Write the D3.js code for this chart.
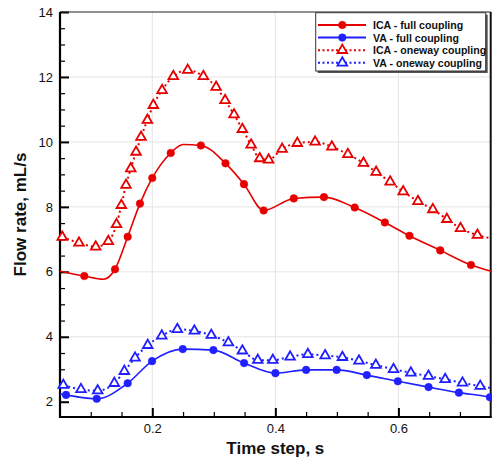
<!DOCTYPE html>
<html>
<head>
<meta charset="utf-8">
<script src="https://cdn.jsdelivr.net/npm/d3@7"></script>
<style>
  html, body { margin: 0; padding: 0; background: #fff; }
  svg { display: block; }
  text { font-family: Arial, "Liberation Sans", sans-serif; }
</style>
</head>
<body>
<svg id="chart" width="492" height="463"></svg>
<script>
// ---------------- DATA ----------------
const seriesNames = ["ICA - full coupling", "VA - full coupling", "ICA - oneway coupling", "VA - oneway coupling"];

// marker points [time, flow]
const icaFull = [[0.0895,5.87],[0.1394,6.08],[0.160,7.08],[0.180,8.10],[0.200,8.89],[0.230,9.66],[0.279,9.89],
  [0.319,9.34],[0.349,8.70],[0.381,7.89],[0.430,8.26],[0.479,8.30],[0.529,7.98],[0.578,7.52],[0.618,7.11],
  [0.668,6.66],[0.718,6.21]];
// additional curve points without markers
const icaFullExtra = [[0.05,6.02],[0.1204,5.77],[0.25,9.92],[0.751,6.02]];

const vaFull = [[0.0598,2.21],[0.1097,2.09],[0.160,2.57],[0.1996,3.25],[0.2495,3.62],[0.2993,3.59],[0.3492,3.19],
  [0.4001,2.88],[0.45,2.98],[0.4996,2.98],[0.5487,2.82],[0.5991,2.63],[0.649,2.45],[0.6983,2.28],[0.7487,2.14]];
const vaFullExtra = [[0.05,2.24],[0.751,2.13]];

const icaOneway = [[0.0537,7.07],[0.0809,6.89],[0.108,6.77],[0.1285,6.94],[0.1419,7.46],[0.1497,8.05],[0.1573,8.67],
  [0.165,9.18],[0.1736,9.69],[0.1817,10.15],[0.192,10.67],[0.2017,11.13],[0.2159,11.59],[0.2342,12.02],[0.2576,12.21],
  [0.283,12.02],[0.3037,11.69],[0.3183,11.28],[0.3329,10.84],[0.3464,10.39],[0.3606,9.91],[0.3746,9.49],[0.389,9.45],
  [0.411,9.78],[0.4357,9.96],[0.4646,10.0],[0.4918,9.85],[0.5178,9.62],[0.5432,9.35],[0.5638,9.07],[0.5866,8.77],
  [0.6077,8.47],[0.6318,8.17],[0.656,7.92],[0.6788,7.62],[0.7009,7.34],[0.7284,7.13]];
const icaOnewayExtra = [[0.751,7.03]];

const vaOneway = [[0.0554,2.51],[0.0841,2.38],[0.1113,2.34],[0.1383,2.57],[0.1546,2.94],[0.1720,3.35],[0.1926,3.74],
  [0.2154,4.03],[0.2407,4.23],[0.2684,4.18],[0.2959,4.05],[0.3237,3.82],[0.3464,3.57],[0.3715,3.28],[0.3959,3.28],
  [0.424,3.38],[0.4528,3.46],[0.4809,3.42],[0.509,3.37],[0.5359,3.26],[0.5633,3.13],[0.592,3.00],[0.6202,2.89],
  [0.6489,2.79],[0.676,2.69],[0.7042,2.58],[0.733,2.48]];
const vaOnewayExtra = [[0.751,2.42]];

const xTicks = [0.2, 0.4, 0.6];
const xTickLabels = ["0.2", "0.4", "0.6"];
const yTicks = [2, 4, 6, 8, 10, 12, 14];
const yTickLabels = ["2", "4", "6", "8", "10", "12", "14"];
const xTitle = "Time step, s";
const yTitle = "Flow rate, mL/s";

// ---------------- LAYOUT ----------------
const RED = "#e60000", BLUE = "#1f1fff";
const L = 60, R = 490.7, T = 12, B = 417;
const svg = d3.select("#chart");
const x = d3.scaleLinear().domain([0.05, 0.75]).range([L, R]);
const y = d3.scaleLinear().domain([1.53, 14]).range([B, T]);

// grid
const grid = svg.append("g");
grid.selectAll("line.gx").data(xTicks).join("line")
  .attr("x1", d => x(d)).attr("x2", d => x(d)).attr("y1", T).attr("y2", B)
  .attr("stroke", "#e4e4e4").attr("stroke-width", 1);
grid.selectAll("line.gy").data(yTicks.filter(d => d > 2 && d < 14)).join("line")
  .attr("x1", L).attr("x2", R).attr("y1", d => y(d)).attr("y2", d => y(d))
  .attr("stroke", "#e4e4e4").attr("stroke-width", 1);

// axes (ticks inside)
const xMinor = d3.range(0.1, 0.75, 0.05).filter(v => !xTicks.some(t => Math.abs(t - v) < 1e-6));
const yMinor = d3.range(2.5, 14, 0.5).filter(v => !yTicks.some(t => Math.abs(t - v) < 1e-6));

const xAxis = svg.append("g").attr("transform", `translate(0,${B})`)
  .call(d3.axisBottom(x).tickValues(xTicks).tickFormat((d, i) => xTickLabels[i]).tickSizeInner(-9).tickSizeOuter(0).tickPadding(7));
xAxis.select(".domain").remove();
xAxis.selectAll(".tick line").attr("stroke", "#000").attr("stroke-width", 2);
xAxis.selectAll("text").attr("font-size", 13).attr("fill", "#111");
svg.append("g").attr("transform", `translate(0,${B})`)
  .call(d3.axisBottom(x).tickValues(xMinor).tickFormat("").tickSizeInner(-5).tickSizeOuter(0))
  .call(g => g.select(".domain").remove())
  .selectAll(".tick line").attr("stroke", "#000").attr("stroke-width", 1.2);

const yAxis = svg.append("g").attr("transform", `translate(${L},0)`)
  .call(d3.axisLeft(y).tickValues(yTicks).tickFormat((d, i) => yTickLabels[i]).tickSizeInner(-9).tickSizeOuter(0).tickPadding(7));
yAxis.select(".domain").remove();
yAxis.selectAll(".tick line").attr("stroke", "#000").attr("stroke-width", 2);
yAxis.selectAll("text").attr("font-size", 13).attr("fill", "#111");
svg.append("g").attr("transform", `translate(${L},0)`)
  .call(d3.axisLeft(y).tickValues(yMinor).tickFormat("").tickSizeInner(-5).tickSizeOuter(0))
  .call(g => g.select(".domain").remove())
  .selectAll(".tick line").attr("stroke", "#000").attr("stroke-width", 1.2);

// frame
svg.append("line").attr("x1", L).attr("x2", R).attr("y1", T).attr("y2", T).attr("stroke", "#222").attr("stroke-width", 1.2);
svg.append("line").attr("x1", R).attr("x2", R).attr("y1", T).attr("y2", B).attr("stroke", "#111").attr("stroke-width", 2);
svg.append("line").attr("x1", L).attr("x2", L).attr("y1", T).attr("y2", B + 1).attr("stroke", "#000").attr("stroke-width", 2.2);
svg.append("line").attr("x1", L - 1).attr("x2", R + 1).attr("y1", B).attr("y2", B).attr("stroke", "#000").attr("stroke-width", 2.2);

// titles
svg.append("text").attr("x", (L + R) / 2).attr("y", 454).attr("text-anchor", "middle")
  .attr("font-size", 17).attr("font-weight", "bold").attr("fill", "#111").text(xTitle);
svg.append("text").attr("transform", `translate(26,${(T + B) / 2}) rotate(-90)`).attr("text-anchor", "middle")
  .attr("font-size", 17).attr("font-weight", "bold").attr("fill", "#111").text(yTitle);

// series
const merge = (a, b) => a.concat(b).sort((p, q) => p[0] - q[0]);
const lineGen = d3.line().x(d => x(d[0])).y(d => y(d[1])).curve(d3.curveMonotoneX);
const series = [
  { name: seriesNames[0], marks: icaFull, extra: icaFullExtra, color: RED, dotted: false, sym: "circle" },
  { name: seriesNames[1], marks: vaFull, extra: vaFullExtra, color: BLUE, dotted: false, sym: "circle" },
  { name: seriesNames[2], marks: icaOneway, extra: icaOnewayExtra, color: RED, dotted: true, sym: "triangle" },
  { name: seriesNames[3], marks: vaOneway, extra: vaOnewayExtra, color: BLUE, dotted: true, sym: "triangle" }
];
const triPath = d3.symbol().type(d3.symbolTriangle).size(40);

function drawMarker(g, sym, color) {
  if (sym === "circle") {
    g.append("circle").attr("r", 3.8).attr("fill", color).attr("stroke", color).attr("stroke-width", 0.5);
  } else {
    g.append("path").attr("d", triPath()).attr("fill", "#fff").attr("stroke", color).attr("stroke-width", 1.8);
  }
}

const plot = svg.append("g");
series.slice().reverse().forEach(s => {
  plot.append("path").datum(merge(s.marks, s.extra)).attr("d", lineGen)
    .attr("fill", "none").attr("stroke", s.color)
    .attr("stroke-width", s.dotted ? 2 : 1.6)
    .attr("stroke-dasharray", s.dotted ? "2,3" : null);
});
series.slice().reverse().forEach(s => {
  plot.selectAll(null).data(s.marks).join("g")
    .attr("transform", d => `translate(${x(d[0])},${y(d[1])})`)
    .each(function () { drawMarker(d3.select(this), s.sym, s.color); });
});

// legend
const lg = svg.append("g");
const lx = 315.7, ly = 12.7, lw = 170, lh = 58.3;
lg.append("rect").attr("x", lx + 2).attr("y", ly + 2).attr("width", lw).attr("height", lh).attr("fill", "#555");
lg.append("rect").attr("x", lx).attr("y", ly).attr("width", lw).attr("height", lh).attr("fill", "#fff")
  .attr("stroke", "#333").attr("stroke-width", 1);
series.forEach((s, i) => {
  const ry = 25 + i * 12.6;
  lg.append("line").attr("x1", 318).attr("x2", 366).attr("y1", ry).attr("y2", ry)
    .attr("stroke", s.color).attr("stroke-width", 2)
    .attr("stroke-dasharray", s.dotted ? "2,2.5" : null);
  const m = lg.append("g").attr("transform", `translate(342.3,${ry})`);
  drawMarker(m, s.sym, s.color);
  lg.append("text").attr("x", 373).attr("y", ry + 4).attr("font-size", 10.6).attr("font-weight", "bold")
    .attr("fill", "#111").text(s.name);
});
</script>
</body>
</html>
